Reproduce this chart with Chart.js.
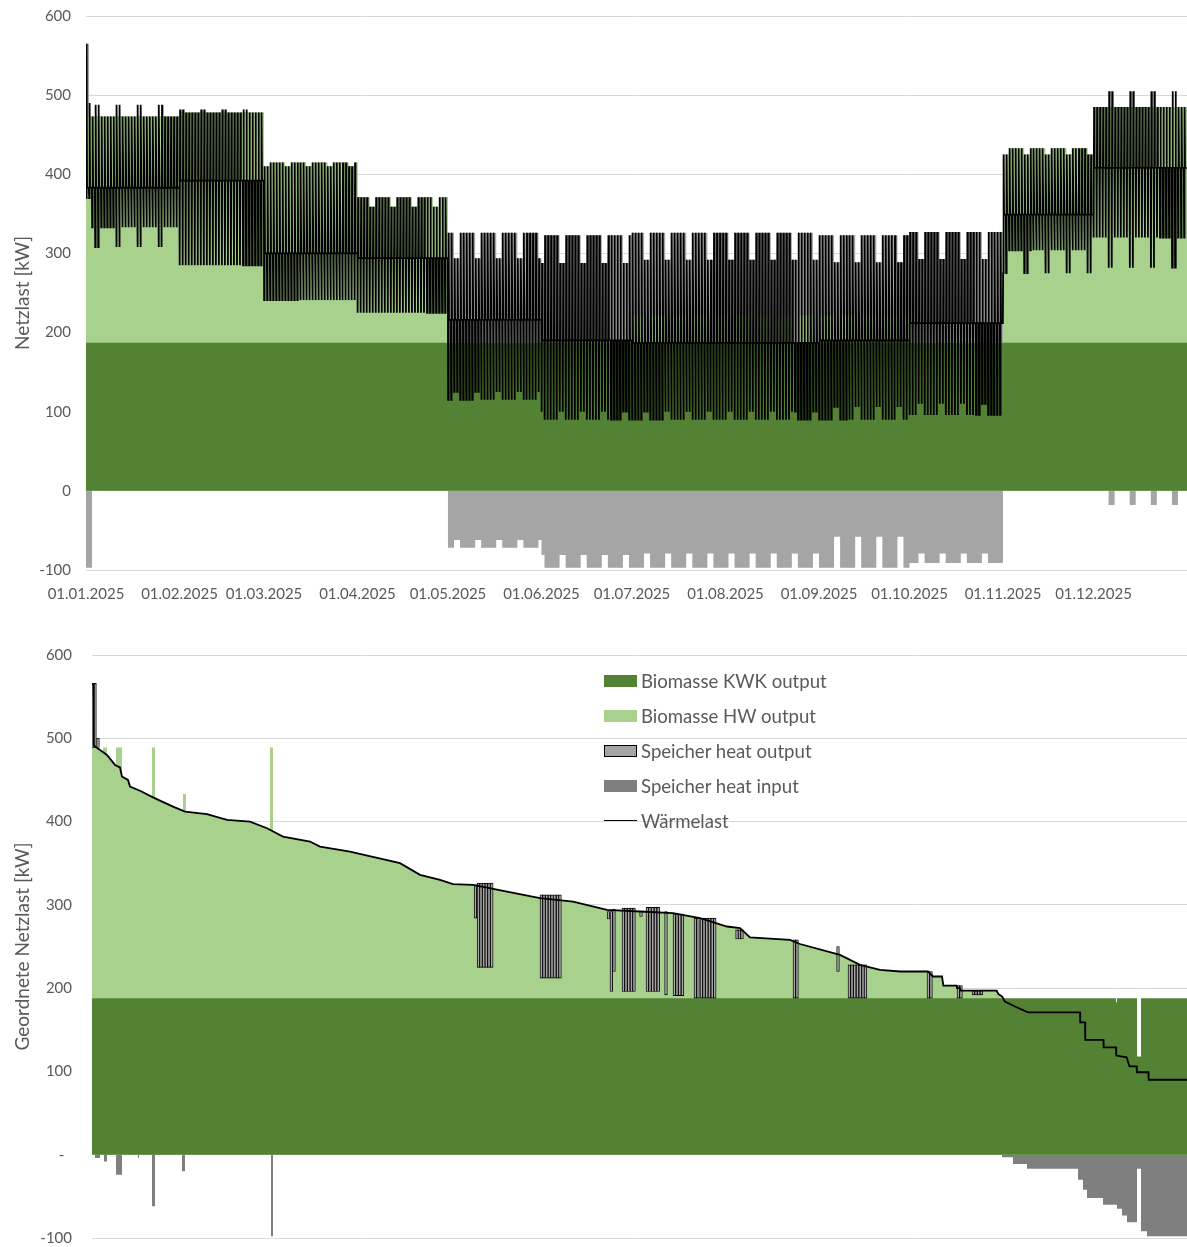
<!DOCTYPE html>
<html><head><meta charset="utf-8">
<script src="https://cdn.jsdelivr.net/npm/chart.js@4.4.1/dist/chart.umd.min.js"></script>
<style>
html,body{margin:0;padding:0;background:#fff;}
#wrap{position:relative;width:1187px;height:1247px;overflow:hidden;}
#topBox{position:absolute;left:0;top:-8px;width:1187px;height:620px;}
#botBox{position:absolute;left:0;top:620px;width:1187px;height:647px;}
#legend{position:absolute;left:604px;top:663px;font-family:Lato,"Open Sans",sans-serif;font-size:18.6px;color:#595959;}
#legend .item{display:flex;align-items:center;height:35px;white-space:nowrap;}
#legend .sw{width:33px;height:12px;margin-right:4px;box-sizing:border-box;}
#legend .ln{width:33px;height:0;border-top:1.5px solid #000;margin-right:4px;}
</style></head>
<body><div id="wrap">
<div id="topBox"><canvas id="cTop"></canvas></div>
<div id="botBox"><canvas id="cBot"></canvas></div>
<div id="legend"></div>
</div>
<script>
// ---------- shared ----------
const seriesNames = ['Biomasse KWK output','Biomasse HW output','Speicher heat output','Speicher heat input','Wärmelast'];
const yTicks = [-100,0,100,200,300,400,500,600];

// ---------- top chart: time series 2025 ----------
const monthStartDays = [0,31,59,90,120,151,181,212,243,273,304,334];
const monthLabels = ['01.01.2025','01.02.2025','01.03.2025','01.04.2025','01.05.2025','01.06.2025','01.07.2025','01.08.2025','01.09.2025','01.10.2025','01.11.2025','01.12.2025'];

// periods with a repeating weekly pattern (Jan, Feb, Mar, Apr, May, Jun, Jul-Aug, Sep, Oct, Nov, Dec)
const periodStartDay   = [0,31,59,90,120,151,181,243,273,304,334];
const kwkOutput        = [187,187,187,187,187,187,187,187,187,187,187];
const hwTopWeekday     = [473,478,415,371,187,187,222,222,187,433,485];
const hwTopWeekend     = [473,478,410,359,187,187,187,187,187,425,485];
const supplyTopWeekday = [473,478,415,371,326,323,326,323,327,433,485];
const supplyTopWeekend = [473,478,410,359,294,288,292,289,293,425,485];
const loadHighWeekday  = [473,478,415,371,326,323,326,323,327,433,485];
const loadHighWeekend  = [488,482,410,359,294,288,292,289,293,425,505];
const loadLowWeekday   = [333,285,241,225,115, 90, 90, 90, 96,304,320];
const loadLowWeekend   = [308,285,241,225,125,100,100,106,110,275,282];
const loadMid          = [383,392,300,294,216,190,187,190,212,349,408];
const storeInWeekday   = [  0,  0,  0,  0,-72,-97,-97,-97,-91,  0,  0];
const storeInWeekend   = [  0,  0,  0,  0,-62,-81,-79,-58,-79,  0,-18];
// first days of the year
const specialDays      = [0,1];
const specialSupplyTop = [565,473];
const specialHigh      = [565,490];
const specialLow       = [370,370];
const specialStoreIn   = [-97,-97];
// timing (fraction of a day) of the daily load profile: low, peak, plateau, plateau
const profileTimes     = [0.05,0.20,0.35,0.95];

function periodOf(d){let p=0;for(let i=0;i<periodStartDay.length;i++){if(d>=periodStartDay[i])p=i;}return p;}
function isWeekend(d){const g=new Date(2025,0,1+d).getDay();return g===0||g===6;}

const kwkPts=[],hwPts=[],outPts=[],inPts=[],loadPts=[];
for(let d=0;d<365;d++){
  const p=periodOf(d), we=isWeekend(d), s=specialDays.indexOf(d);
  let kwk=kwkOutput[p];
  let hw = we?hwTopWeekend[p]:hwTopWeekday[p];
  let top= we?supplyTopWeekend[p]:supplyTopWeekday[p];
  let hi = we?loadHighWeekend[p]:loadHighWeekday[p];
  let lo = we?loadLowWeekend[p]:loadLowWeekday[p];
  let mid= loadMid[p];
  let sin= we?storeInWeekend[p]:storeInWeekday[p];
  if(s>=0){top=specialSupplyTop[s];hi=specialHigh[s];lo=specialLow[s];sin=specialStoreIn[s];}
  kwkPts.push({x:d,y:kwk},{x:d+1,y:kwk});
  hwPts.push({x:d,y:hw},{x:d+1,y:hw});
  outPts.push({x:d,y:top},{x:d+1,y:top});
  inPts.push({x:d,y:sin},{x:d+1,y:sin});
  const vals=[lo,hi,mid,mid];
  profileTimes.forEach((t,i)=>loadPts.push({x:d+t,y:vals[i]}));
}

// ---------- bottom chart: sorted (duration) curve, hours 0..8760 ----------
const sortedLoadHours  = [0,12,14,24,64,120,184,224,240,288,304,384,488,648,744,920,1080,1264,1400,1528,1744,1824,2064,2464,2624,2784,2888,3048,3320,3584,3848,4120,4384,4648,4864,5080,5184,5264,5584,5664,5984,6144,6304,6464,6688,6728,6800,6811,6917,6920,6944,6946,7237,7250,7280,7304,7384,7488,7904,7906,7944,7946,8091,8093,8192,8194,8277,8300,8357,8359,8451,8453,8760];
const sortedLoadValues = [565,565,492,490,486,480,468,465,454,450,442,437,429,418,412,409,402,400,392,382,376,370,364,350,336,330,325,324,316,308,304,294,292,290,284,274,272,261,258,253,240,228,222,220,220,214,214,203,203,200,200,197,197,193,190,184,178,171,171,159,159,138,138,129,129,119,117,106,106,99,99,90,90];

const sortedKwkHours   = [0,8192,8200,8360,8392,8760];
const sortedKwkValues  = [188,183,188,118,188,188];

const hwPeakHours      = [0,88,120,192,240,480,504,728,752,1424,1448,8760];
const hwPeakValues     = [0,489,0,489,0,489,0,433,0,489,0,0];

const sortedInHours    = [0,24,64,96,120,192,240,368,376,480,504,720,744,1432,1448,7280,7368,7480,7888,7928,7960,8088,8200,8240,8280,8360,8392,8440,8760];
const sortedInValues   = [0,-4,0,-8,0,-24,0,-4,0,-62,0,-20,0,-98,0,-3,-11,-17,-30,-42,-52,-60,-65,-73,-81,-17,-92,-98,-98];

const storeOutHours = [8,24,48,3068,3088,3092,3112,3134,3155,3176,3198,3595,3616,3638,3660,3680,3703,3725,3744,4132,4155,4176,4251,4272,4294,4316,4336,4392,4443,4464,4486,4508,4530,4592,4659,4680,4702,4724,4827,4848,4875,4896,4918,4940,4962,4982,5160,5180,5200,5619,5640,5968,6059,6080,6102,6124,6146,6168,6188,6691,6712,6931,6952,7051,7072,7094,7116];
const storeOutLow   = [489,489,489,284,284,225,225,225,225,225,225,212,212,212,212,212,212,212,212,283,196,220,196,196,196,196,196,286,196,196,196,196,196,192,191,191,191,191,188,188,188,188,188,188,188,188,259,259,259,188,188,220,188,188,188,188,188,188,188,188,188,188,188,192,192,192,192];
const storeOutHigh  = [566,566,500,324,324,326,326,326,326,326,326,312,312,312,312,312,312,312,312,292,292,295,296,296,296,296,296,292,297,297,297,297,297,292,289,289,289,289,284,284,284,284,284,284,284,284,270,270,270,258,258,250,228,228,228,228,228,228,228,220,220,203,203,197,197,197,197];

function stepPoints(hours,values){const pts=[];for(let i=0;i<hours.length-1;i++){pts.push({x:hours[i],y:values[i]},{x:hours[i+1],y:values[i]});}return pts;}

// ---------- styling ----------
const COL={kwk:'#548235',hw:'#A9D18E',out:'#A5A5A5',inBot:'#7F7F7F',grid:'#D9D9D9',text:'#595959'};
Chart.defaults.font.family='Lato, "Open Sans", sans-serif';
Chart.defaults.color=COL.text;
const tickFont={size:15};
const titleFont={size:19};

function area(label,data,color,order){
  return {label,data,backgroundColor:color,borderColor:'transparent',borderWidth:0,pointRadius:0,fill:'origin',order,tension:0};
}
function yScale(width,pad,bottomZeroDash,title){
  return {
    min:-100,max:600,
    afterBuildTicks:(s)=>{s.ticks=yTicks.map(v=>({value:v}));},
    afterFit:(s)=>{s.width=width;},
    grid:{color:COL.grid,lineWidth:1,drawTicks:false},
    border:{display:false},
    ticks:{font:tickFont,color:COL.text,padding:pad,callback:(v)=>(bottomZeroDash&&v===0)?'-  ':String(v)},
    title:{display:true,text:title,font:titleFont,color:COL.text,padding:{top:11,bottom:0}}
  };
}

new Chart(document.getElementById('cTop'),{
  type:'line',
  data:{datasets:[
    {label:seriesNames[4],data:loadPts,borderColor:'#000',borderWidth:1.8,pointRadius:0,fill:false,order:0,tension:0},
    area(seriesNames[0],kwkPts,COL.kwk,1),
    area(seriesNames[1],hwPts,COL.hw,2),
    area(seriesNames[2],outPts,COL.out,3),
    area(seriesNames[3],inPts,COL.out,4)
  ]},
  options:{
    responsive:true,maintainAspectRatio:false,animation:false,events:[],
    layout:{padding:{top:8,right:0,bottom:0,left:0}},
    plugins:{legend:{display:false},tooltip:{enabled:false}},
    scales:{
      x:{type:'linear',min:0,max:365,offset:false,
        afterBuildTicks:(s)=>{s.ticks=monthStartDays.map(v=>({value:v}));},
        afterFit:(s)=>{s.height=42;},
        grid:{display:false,drawTicks:false},border:{display:false},
        ticks:{font:tickFont,color:COL.text,padding:15,maxRotation:0,autoSkip:false,
          callback:(v,i)=>monthLabels[i]}},
      y:yScale(86,15,false,'Netzlast [kW]')
    }
  }
});

new Chart(document.getElementById('cBot'),{
  type:'line',
  data:{datasets:[
    {label:seriesNames[4],data:sortedLoadHours.map((h,i)=>({x:h,y:sortedLoadValues[i]})),borderColor:'#000',borderWidth:1.8,pointRadius:0,fill:false,order:0,tension:0},
    {type:'bar',label:seriesNames[2],data:storeOutHours.map((h,i)=>({x:h,y:[storeOutLow[i],storeOutHigh[i]]})),
      backgroundColor:COL.out,borderColor:'#000',borderWidth:0.9,borderSkipped:false,barThickness:2.7,grouped:false,order:1},
    area(seriesNames[0],stepPoints(sortedKwkHours,sortedKwkValues),COL.kwk,2),
    area(seriesNames[1],sortedLoadHours.map((h,i)=>({x:h,y:sortedLoadValues[i]})),COL.hw,3),
    area(seriesNames[1]+' peaks',stepPoints(hwPeakHours,hwPeakValues),COL.hw,3),
    area(seriesNames[3],stepPoints(sortedInHours,sortedInValues),COL.inBot,4)
  ]},
  options:{
    responsive:true,maintainAspectRatio:false,animation:false,events:[],
    layout:{padding:{top:35,right:0,bottom:9,left:0}},
    plugins:{legend:{display:false},tooltip:{enabled:false}},
    scales:{
      x:{type:'linear',min:0,max:8760,offset:false,display:false},
      y:yScale(92,20,true,'Geordnete Netzlast [kW]')
    }
  }
});

// ---------- legend (HTML) ----------
const legendSwatches=[
  {name:seriesNames[0],style:'background:'+COL.kwk},
  {name:seriesNames[1],style:'background:'+COL.hw},
  {name:seriesNames[2],style:'background:'+COL.out+';border:1.5px solid #000'},
  {name:seriesNames[3],style:'background:'+COL.inBot},
  {name:seriesNames[4],line:true}
];
const lg=document.getElementById('legend');
legendSwatches.forEach(it=>{
  const row=document.createElement('div');row.className='item';
  const sw=document.createElement('div');
  if(it.line){sw.className='ln';}else{sw.className='sw';sw.setAttribute('style',it.style);}
  const tx=document.createElement('span');tx.textContent=it.name;
  row.appendChild(sw);row.appendChild(tx);lg.appendChild(row);
});
</script>
</body></html>
